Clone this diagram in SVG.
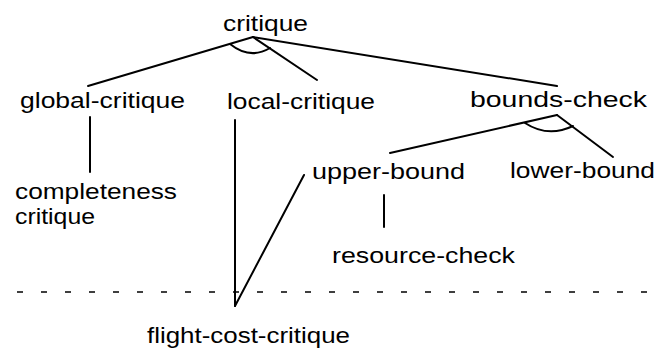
<svg xmlns="http://www.w3.org/2000/svg" width="660" height="354" viewBox="0 0 660 354">
<style>
text{font-family:"Liberation Sans",Arial,sans-serif;font-size:22px;fill:#000}
.e{stroke:#000;stroke-width:2;fill:none;stroke-linecap:round}
.d{stroke:#000;stroke-width:1.6;fill:none;stroke-dasharray:6 18}
</style>
<rect width="660" height="354" fill="#fff"/>
<g id="connectors">
<line class="e" x1="253" y1="37" x2="88" y2="86"/>
<line class="e" x1="253" y1="37" x2="317" y2="80"/>
<line class="e" x1="253" y1="37" x2="557" y2="86"/>
<path class="e" d="M230,44 Q250,60 270,48"/>
<line class="e" x1="90" y1="117" x2="90" y2="172"/>
<line class="e" x1="235" y1="120" x2="235" y2="306"/>
<line class="e" x1="557" y1="115" x2="390" y2="153"/>
<line class="e" x1="557" y1="115" x2="613" y2="157"/>
<path class="e" d="M525,123 Q548,138 573,126"/>
<line class="e" x1="304" y1="175" x2="235" y2="306"/>
<line class="e" x1="384" y1="195" x2="384" y2="227"/>
<line class="d" x1="17" y1="292" x2="652" y2="292"/>
</g>
<g id="critique"><text x="223" y="31" textLength="85" lengthAdjust="spacingAndGlyphs">critique</text></g>
<g id="global-critique"><text x="20" y="108" textLength="165" lengthAdjust="spacingAndGlyphs">global-critique</text></g>
<g id="local-critique"><text x="227" y="109" textLength="148" lengthAdjust="spacingAndGlyphs">local-critique</text></g>
<g id="bounds-check"><text x="470" y="107" textLength="177" lengthAdjust="spacingAndGlyphs">bounds-check</text></g>
<g id="upper-bound"><text x="312" y="179" textLength="153" lengthAdjust="spacingAndGlyphs">upper-bound</text></g>
<g id="lower-bound"><text x="510" y="178" textLength="145" lengthAdjust="spacingAndGlyphs">lower-bound</text></g>
<g id="completeness-critique"><text x="15" y="199" textLength="162" lengthAdjust="spacingAndGlyphs">completeness</text><text x="15" y="224" textLength="80" lengthAdjust="spacingAndGlyphs">critique</text></g>
<g id="resource-check"><text x="332" y="263" textLength="183" lengthAdjust="spacingAndGlyphs">resource-check</text></g>
<g id="flight-cost-critique"><text x="147" y="343" textLength="203" lengthAdjust="spacingAndGlyphs">flight-cost-critique</text></g>
</svg>
